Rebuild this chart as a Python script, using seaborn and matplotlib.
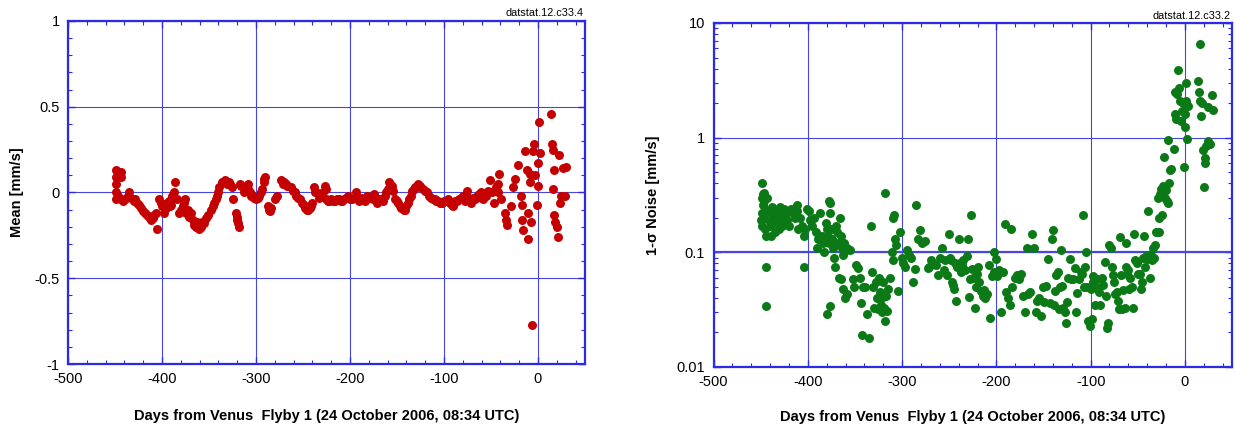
# Venus flyby 1 Doppler residual statistics: daily mean and 1-sigma noise
import pandas as pd
import matplotlib
matplotlib.use('Agg')
import matplotlib.pyplot as plt
from matplotlib.ticker import MultipleLocator, FuncFormatter, LogLocator, NullFormatter
import seaborn as sns

# Mean residual per pass [mm/s] (left panel)
mean_day = [
    -449, -449, -449, -449, -449, -447, -446, -444, -444, -444,
    -441, -439, -436, -435, -433, -430, -429, -427, -424, -422,
    -420, -418, -416, -414, -412, -410, -408, -406, -405, -403,
    -401, -400, -398, -396, -395, -393, -392, -390, -389, -387,
    -386, -384, -382, -380, -378, -377, -376, -374, -372, -371,
    -369, -367, -366, -364, -363, -361, -360, -358, -357, -355,
    -353, -351, -348, -346, -345, -343, -342, -340, -339, -336,
    -334, -333, -331, -329, -328, -326, -324, -321, -320, -320,
    -319, -318, -317, -316, -314, -313, -311, -310, -309, -308,
    -306, -305, -303, -302, -300, -298, -297, -295, -294, -292,
    -291, -290, -287, -286, -285, -284, -280, -278, -273, -271,
    -270, -268, -267, -263, -261, -259, -257, -255, -253, -251,
    -249, -248, -246, -245, -243, -242, -240, -238, -237, -236,
    -233, -231, -229, -227, -226, -225, -223, -222, -220, -218,
    -216, -214, -212, -210, -208, -206, -204, -202, -200, -198,
    -196, -194, -192, -190, -188, -186, -184, -182, -180, -178,
    -175, -174, -171, -169, -167, -165, -163, -162, -160, -158,
    -157, -155, -154, -152, -150, -149, -147, -146, -144, -143,
    -141, -140, -138, -137, -135, -134, -132, -131, -129, -128,
    -126, -125, -122, -120, -118, -116, -114, -112, -110, -108,
    -106, -104, -102, -100, -98, -96, -94, -92, -90, -88,
    -86, -84, -82, -80, -78, -76, -74, -72, -71, -69,
    -67, -65, -63, -61, -60, -58, -57, -55, -53, -49,
    -47, -45, -43, -51, -43, -41, -39, -35.5, -34, -32.7,
    -28.6, -26.5, -24.5, -21.6, -18.4, -17.5, -17.5, -15.5, -13.5, -12.2,
    -11, -10.2, -9, -8.2, -7, -6.1, -4.9, -4.1, -2.9, -1.2,
    0, 0.4, 0.8, 2, 14.3, 15.1, 16.3, 17.1, 16.3, 17.1,
    18.4, 20.4, 21.2, 22.4, 23.3, 24.5, 26.5, 29.8, 28.6,
]
mean_value = [
    0.13, 0.09, 0.05, 0.00, -0.04, -0.02, 0.10, 0.12, 0.09, -0.04,
    -0.05, -0.04, -0.02, 0.00, -0.03, -0.05, -0.04, -0.06, -0.07, -0.09,
    -0.11, -0.12, -0.13, -0.14, -0.16, -0.15, -0.13, -0.12, -0.21, -0.04,
    -0.06, -0.08, -0.12, -0.09, -0.06, -0.05, -0.08, -0.07, -0.02, 0.00,
    0.06, -0.04, -0.12, -0.10, -0.08, -0.06, -0.04, -0.12, -0.10, -0.14,
    -0.12, -0.16, -0.19, -0.20, -0.17, -0.21, -0.19, -0.20, -0.17, -0.18,
    -0.15, -0.13, -0.10, -0.08, -0.06, -0.04, -0.02, 0.00, 0.03, 0.06,
    0.06, 0.07, 0.05, 0.06, 0.05, 0.03, -0.04, -0.12, -0.14, -0.16,
    -0.18, -0.20, 0.05, 0.04, 0.03, 0.00, 0.01, 0.04, 0.02, 0.05,
    0.00, -0.02, -0.02, -0.03, -0.04, -0.03, -0.02, 0.00, 0.02, 0.06,
    0.08, 0.09, -0.08, -0.10, -0.11, -0.09, -0.04, -0.02, 0.07, 0.05,
    0.06, 0.05, 0.04, 0.03, 0.01, 0.00, -0.02, -0.03, -0.04, -0.06,
    -0.07, -0.09, -0.10, -0.10, -0.09, -0.08, -0.06, 0.03, 0.00, 0.00,
    -0.03, -0.02, 0.00, 0.04, 0.02, -0.04, -0.05, -0.05, -0.04, -0.05,
    -0.05, -0.04, -0.04, -0.05, -0.05, -0.04, -0.03, -0.02, -0.04, -0.04,
    -0.03, 0.00, -0.04, -0.05, -0.03, -0.04, -0.05, -0.02, -0.03, -0.03,
    -0.04, -0.01, -0.06, -0.04, -0.04, -0.05, -0.02, 0.00, 0.02, 0.06,
    0.05, 0.04, 0.01, -0.04, -0.05, -0.06, -0.08, -0.09, -0.09, -0.10,
    -0.10, -0.08, -0.06, -0.04, -0.02, 0.01, 0.02, 0.03, 0.04, 0.05,
    0.04, 0.03, 0.02, 0.01, 0.00, -0.02, -0.03, -0.04, -0.04, -0.05,
    -0.05, -0.06, -0.06, -0.05, -0.05, -0.04, -0.06, -0.07, -0.08, -0.05,
    -0.05, -0.04, -0.03, -0.02, -0.05, 0.01, -0.03, -0.05, -0.06, -0.03,
    -0.04, -0.02, -0.01, 0.00, -0.03, -0.04, -0.02, -0.02, 0.01, 0.00,
    -0.06, 0.03, 0.00, 0.07, 0.05, 0.11, -0.04, -0.12, -0.16, -0.19,
    -0.08, 0.03, 0.08, 0.16, -0.02, -0.07, -0.16, -0.22, 0.24, 0.13,
    -0.12, -0.27, 0.11, 0.06, -0.17, -0.77, 0.24, 0.28, 0.10, -0.07,
    0.17, 0.04, 0.41, 0.23, 0.46, 0.28, 0.25, 0.13, 0.02, -0.13,
    -0.17, -0.20, -0.26, 0.22, -0.06, -0.02, 0.14, 0.15, -0.02,
]

# 1-sigma noise per pass [mm/s] (right panel, log scale)
noise_day = [
    -450, -449, -449, -449, -449, -448, -448, -446, -446, -446,
    -445, -445, -444, -444, -444, -443, -442, -441, -440, -439,
    -438, -437, -436, -435, -433, -432, -431, -430, -428, -427,
    -425, -424, -422, -420, -418, -416, -414, -412, -411, -410,
    -408, -406, -404, -404, -403, -401, -399, -398, -396, -393,
    -391, -390, -389, -387, -385, -384, -383, -381, -380, -380,
    -379, -378, -377, -376, -376, -376, -375, -374, -373, -372,
    -371, -370, -369, -368, -367, -366, -365, -365, -364, -363,
    -363, -362, -361, -360, -358, -358, -355, -352, -351, -349,
    -347, -345, -344, -343, -341, -339, -337, -335, -333, -332,
    -331, -330, -328, -327, -326, -325, -323, -322, -321, -320,
    -320, -319, -318, -318, -317, -316, -315, -313, -311, -310,
    -310, -309, -308, -306, -304, -302, -300, -299, -297, -295,
    -293, -291, -288, -286, -285, -283, -281, -279, -276, -273,
    -271, -269, -267, -264, -262, -260, -258, -256, -254, -252,
    -250, -249, -248, -247, -246, -245, -244, -243, -242, -240,
    -239, -238, -236, -235, -233, -231, -230, -229, -228, -227,
    -226, -225, -223, -222, -221, -220, -218, -216, -214, -213,
    -212, -210, -208, -207, -205, -203, -202, -200, -199, -197,
    -195, -193, -191, -190, -188, -186, -185, -183, -180, -178,
    -176, -174, -172, -170, -168, -166, -164, -162, -160, -158,
    -157, -155, -153, -151, -149, -147, -145, -143, -141, -140,
    -139, -138, -137, -135, -134, -132, -131, -130, -129, -127,
    -126, -125, -124, -122, -121, -119, -117, -116, -114, -112,
    -110, -109, -108, -107, -106, -105, -104, -103, -101, -100,
    -99, -98, -97, -95, -94, -93, -91, -90, -88, -87,
    -85, -84, -83, -82, -80, -78, -77, -76, -75, -74,
    -72, -71, -70, -69, -68, -67, -66, -64, -63, -62,
    -61, -60, -59, -58, -56, -55, -54, -53, -51, -50,
    -48, -47, -46, -44, -43, -42, -41, -40, -39, -38,
    -37, -36, -35, -34, -33, -32, -31, -30, -29, -28,
    -27, -26, -25, -24, -23, -22, -21, -20, -19, -18,
    -18, -17, -16, -15, -12, -11, -10, -9, -8, -7,
    -6, -5, -4, -3, -2, -1, 0, 0.5, 1, 1.5,
    2, 3, 14, 15, 15.5, 16, 17, 18, 19, 20,
    21, 21.5, 22, 24, 25, 27, 29, 30,
]
noise_value = [
    0.19, 0.40, 0.30, 0.22, 0.17, 0.32, 0.26, 0.33, 0.28, 0.20,
    0.24, 0.16, 0.14, 0.075, 0.034, 0.30, 0.23, 0.19, 0.17, 0.14,
    0.25, 0.21, 0.18, 0.15, 0.22, 0.19, 0.16, 0.25, 0.20, 0.17,
    0.24, 0.21, 0.19, 0.17, 0.24, 0.22, 0.20, 0.26, 0.23, 0.16,
    0.20, 0.17, 0.14, 0.074, 0.16, 0.24, 0.23, 0.19, 0.17, 0.20,
    0.15, 0.11, 0.13, 0.22, 0.14, 0.12, 0.10, 0.18, 0.16, 0.029,
    0.14, 0.12, 0.28, 0.27, 0.22, 0.034, 0.16, 0.13, 0.11, 0.09,
    0.075, 0.17, 0.15, 0.12, 0.06, 0.20, 0.14, 0.058, 0.11, 0.095,
    0.048, 0.12, 0.04, 0.105, 0.11, 0.043, 0.105, 0.058, 0.05, 0.078,
    0.073, 0.06, 0.036, 0.019, 0.05, 0.05, 0.029, 0.018, 0.17, 0.068,
    0.05, 0.033, 0.055, 0.04, 0.032, 0.06, 0.045, 0.035, 0.03, 0.055,
    0.041, 0.033, 0.33, 0.025, 0.042, 0.031, 0.048, 0.06, 0.10, 0.085,
    0.20, 0.21, 0.13, 0.115, 0.046, 0.15, 0.09, 0.08, 0.075, 0.105,
    0.095, 0.09, 0.055, 0.072, 0.26, 0.13, 0.155, 0.12, 0.125, 0.073,
    0.075, 0.086, 0.08, 0.078, 0.063, 0.09, 0.11, 0.07, 0.085, 0.063,
    0.145, 0.09, 0.085, 0.055, 0.052, 0.048, 0.08, 0.038, 0.075, 0.13,
    0.08, 0.068, 0.078, 0.085, 0.07, 0.092, 0.13, 0.041, 0.058, 0.21,
    0.072, 0.06, 0.033, 0.05, 0.065, 0.075, 0.055, 0.046, 0.042, 0.047,
    0.04, 0.043, 0.078, 0.027, 0.062, 0.068, 0.10, 0.088, 0.062, 0.07,
    0.03, 0.068, 0.175, 0.045, 0.04, 0.035, 0.16, 0.05, 0.06, 0.063,
    0.058, 0.065, 0.042, 0.03, 0.11, 0.043, 0.045, 0.145, 0.11, 0.03,
    0.038, 0.04, 0.028, 0.05, 0.037, 0.051, 0.087, 0.036, 0.13, 0.155,
    0.035, 0.046, 0.064, 0.067, 0.032, 0.05, 0.105, 0.051, 0.033, 0.03,
    0.024, 0.037, 0.06, 0.088, 0.058, 0.058, 0.073, 0.03, 0.044, 0.058,
    0.068, 0.065, 0.21, 0.05, 0.075, 0.10, 0.05, 0.025, 0.023, 0.048,
    0.026, 0.062, 0.055, 0.035, 0.05, 0.058, 0.045, 0.035, 0.06, 0.052,
    0.083, 0.042, 0.022, 0.024, 0.115, 0.11, 0.075, 0.063, 0.055, 0.043,
    0.045, 0.038, 0.032, 0.135, 0.063, 0.032, 0.047, 0.033, 0.12, 0.075,
    0.065, 0.07, 0.048, 0.06, 0.05, 0.033, 0.145, 0.085, 0.08, 0.065,
    0.065, 0.048, 0.055, 0.09, 0.14, 0.075, 0.093, 0.088, 0.23, 0.095,
    0.06, 0.095, 0.085, 0.11, 0.09, 0.115, 0.15, 0.15, 0.30, 0.20,
    0.15, 0.32, 0.36, 0.21, 0.38, 0.68, 0.30, 0.35, 0.28, 0.95,
    0.27, 0.40, 0.52, 0.53, 0.80, 2.5, 1.6, 1.45, 2.4, 3.9,
    2.7, 2.1, 1.4, 1.7, 2.0, 0.55, 1.6, 1.25, 3.0, 2.1,
    0.98, 1.9, 3.15, 2.5, 6.6, 2.1, 1.55, 2.0, 0.78, 0.37,
    0.6, 0.67, 0.85, 0.93, 1.85, 0.88, 2.35, 1.75,
]

x_label = 'Days from Venus  Flyby 1 (24 October 2006, 08:34 UTC)'
FRAME = '#2b2be6'
GRID = '#4646e0'
RED = '#c40000'
GREEN = '#0b7a16'

sns.set_style('ticks')
plt.rcParams['font.family'] = ['Liberation Sans', 'DejaVu Sans']
plt.rcParams['axes.unicode_minus'] = False
plt.rcParams['text.color'] = 'black'
plt.rcParams['axes.labelcolor'] = 'black'


def style_axes(ax):
    """Blue frame, inward ticks on every side, grid at major ticks."""
    for sp in ax.spines.values():
        sp.set_color(FRAME)
        sp.set_linewidth(1.6)
    ax.tick_params(which='both', direction='in', top=True, right=True,
                   color=FRAME, labelcolor='black', labelsize=10.5)
    ax.tick_params(which='major', length=5, width=1.0, pad=6)
    ax.tick_params(which='minor', length=3, width=0.8)
    ax.grid(which='major', color=GRID, linewidth=0.8)
    ax.grid(which='minor', visible=False)
    ax.set_xlim(-500, 50)
    ax.xaxis.set_major_locator(MultipleLocator(100))
    ax.xaxis.set_minor_locator(MultipleLocator(20))
    ax.xaxis.set_major_formatter(FuncFormatter(lambda v, p: '%g' % v))


fig = plt.figure(figsize=(12.36, 4.32), dpi=100)
ax1 = fig.add_axes([0.0550, 0.1574, 0.4183, 0.7940])
ax2 = fig.add_axes([0.5773, 0.1505, 0.4195, 0.7963])

# Left panel: mean
df_mean = pd.DataFrame({'day': mean_day, 'mean': mean_value})
sns.scatterplot(data=df_mean, x='day', y='mean', ax=ax1, color=RED,
                s=42, linewidth=0, zorder=3)
style_axes(ax1)
ax1.set_ylim(-1, 1)
ax1.yaxis.set_major_locator(MultipleLocator(0.5))
ax1.yaxis.set_minor_locator(MultipleLocator(0.1))
ax1.yaxis.set_major_formatter(FuncFormatter(lambda v, p: '%g' % v))
ax1.set_xlabel(x_label, fontsize=10.5, fontweight='bold', color='black')
ax1.set_ylabel('Mean [mm/s]', fontsize=10.5, fontweight='bold', color='black')
ax1.xaxis.set_label_coords(0.5, -0.132)
ax1.yaxis.set_label_coords(-0.085, 0.5)
ax1.text(0.997, 1.022, 'datstat.12.c33.4', transform=ax1.transAxes,
         ha='right', va='center', fontsize=7.8, color='black')

# Right panel: 1-sigma noise
df_noise = pd.DataFrame({'day': noise_day, 'noise': noise_value})
sns.scatterplot(data=df_noise, x='day', y='noise', ax=ax2, color=GREEN,
                s=42, linewidth=0, zorder=3)
ax2.set_yscale('log')
style_axes(ax2)
ax2.set_ylim(0.01, 10)
ax2.yaxis.set_major_locator(LogLocator(base=10))
ax2.yaxis.set_minor_locator(LogLocator(base=10, subs=range(2, 10)))
ax2.yaxis.set_major_formatter(FuncFormatter(lambda v, p: '%g' % v))
ax2.yaxis.set_minor_formatter(NullFormatter())
ax2.axhline(0.1, color=GRID, linewidth=1.6, zorder=1)
ax2.set_xlabel(x_label, fontsize=10.5, fontweight='bold', color='black')
ax2.set_ylabel('1-σ Noise [mm/s]', fontsize=10.5, fontweight='bold', color='black')
ax2.xaxis.set_label_coords(0.5, -0.125)
ax2.yaxis.set_label_coords(-0.103, 0.5)
ax2.text(0.997, 1.02, 'datstat.12.c33.2', transform=ax2.transAxes,
         ha='right', va='center', fontsize=7.8, color='black')

fig.savefig('out.png', dpi=100)
